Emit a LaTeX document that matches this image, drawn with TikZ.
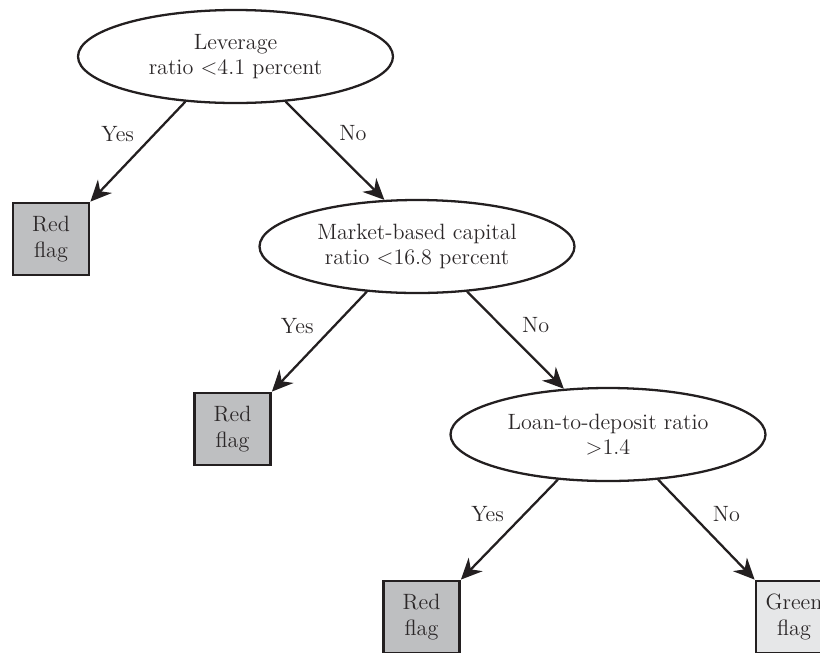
\documentclass[tikz,border=0pt]{standalone}
\usepackage{tikz}
\usetikzlibrary{positioning}
\usetikzlibrary{arrows.meta}
\usetikzlibrary{shapes.geometric}

\definecolor{ink}{HTML}{231F20}
\definecolor{txt}{HTML}{2B2728}
\definecolor{redgray}{HTML}{BEBFC1}
\definecolor{greengray}{HTML}{E6E7E8}

\begin{document}
\begin{tikzpicture}[on grid]
    \useasboundingbox (0,0) rectangle (16.4,-13.04);
    \begin{scope}[every node/.style={align=center,text=txt,font=\fontsize{12.6}{14.4}\selectfont},
        test/.style={ellipse,draw=ink,line width=1.3pt,minimum width=6.3cm,minimum height=1.86cm,inner sep=0pt},
        flag/.style={rectangle,draw=ink,line width=1.6pt,minimum width=1.52cm,minimum height=1.44cm,inner sep=0pt}]
        \node(lev) at (4.71,-1.13) [test] {Leverage\\ratio \textless4.1 percent};
        \node(mkt)[test,below right=3.8cm and 3.63cm of lev] {Market-based capital\\ratio \textless16.8 percent};
        \node(ltd)[test,below right=3.76cm and 3.82cm of mkt] {Loan-to-deposit ratio\\\textgreater1.4};
        \node(red1)[flag,fill=redgray,below left=3.65cm and 3.69cm of lev] {Red\\flag};
        \node(red2)[flag,fill=redgray,below left=3.65cm and 3.69cm of mkt] {Red\\flag};
        \node(red3)[flag,fill=redgray,below left=3.65cm and 3.73cm of ltd] {Red\\flag};
        \node(green)[flag,fill=greengray,below right=3.65cm and 3.72cm of ltd] {Green\\flag};
    \end{scope}
    %Lines
    \begin{scope}[>={Stealth[length=12pt,width=11pt]}, line width=1.3pt, draw=ink,
        every node/.style={text=txt,font=\fontsize{12.6}{14.4}\selectfont}]
        \draw[->] (lev.222) -- node(yes1)[pos=.32,left=0.28cm] {Yes} (red1.north east);
        \draw[->] (lev.318) -- node(no1)[pos=.32,right=0.3cm] {No} (mkt.125);
        \draw[->] (mkt.222) -- node(yes2)[pos=.34,left=0.28cm] {Yes} (red2.north east);
        \draw[->] (mkt.318) -- node(no2)[pos=.34,right=0.3cm] {No} (ltd.134);
        \draw[->] (ltd.222) -- node(yes3)[pos=.34,left=0.28cm] {Yes} (red3.north east);
        \draw[->] (ltd.318) -- node(no3)[pos=.34,right=0.3cm] {No} (green.north west);
    \end{scope}
\end{tikzpicture}
\end{document}
